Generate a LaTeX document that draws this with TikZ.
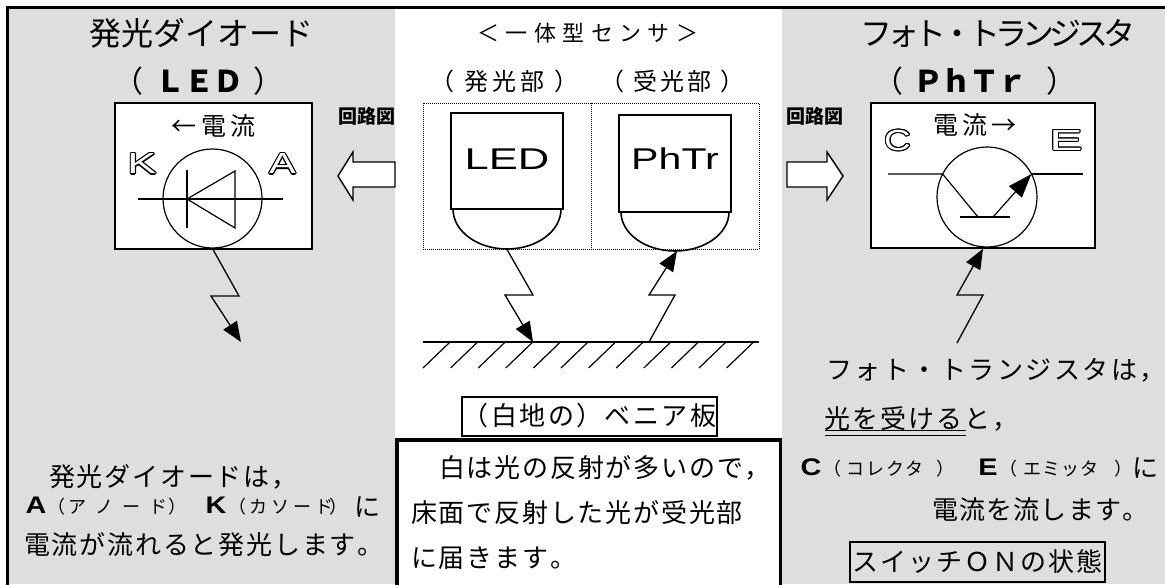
\documentclass[tikz,border=0pt]{standalone}
\usepackage{fontspec}
\usepackage{graphicx}
\setmainfont{Noto Sans CJK JP}
\newfontfamily\latinsans{Liberation Sans}
\usetikzlibrary{arrows.meta,calc}
\definecolor{panelgray}{RGB}{222,222,222}

\newcommand\fsz[1]{\fontsize{#1}{#1}\selectfont}
% set a string with a fixed extra gap between its characters
\makeatletter
\def\sp@end{\sp@end@marker}
\newcommand\sptext[2]{\def\sp@gap{\hspace{#1}}\sp@first#2\sp@end}
\def\sp@first#1{#1\sp@next}
\def\sp@next#1{\ifx#1\sp@end\else\sp@gap#1\expandafter\sp@next\fi}
\makeatother
% parenthesised label: left gap, inner gap, right gap, text
\newcommand\parlabel[4]{（\hspace{#1}\sptext{#2}{#4}\hspace{#3}）}
% bold wide latin capital
\newcommand\capletter[1]{{\latinsans\bfseries\scalebox{1.2}[1]{#1}}}
% outlined (hollow) capital letter: name, position, horizontal stretch, letter
\newcommand\hollowat[4]{%
  \foreach \ang in {0,30,...,330}{%
    \node[hollowtxt, text=black] (#1-\ang) at ($(#2)+(\ang:1.1)$) {\scalebox{#3}[1]{#4}};}%
  \node[hollowtxt, text=white] (#1) at (#2) {\scalebox{#3}[1]{#4}};}

\tikzset{
  tx/.style={inner sep=0pt, font=\fsz{#1},
    text height=\dimexpr#1pt*80/100\relax, text depth=\dimexpr#1pt*8/100\relax},
  hollowtxt/.style={inner sep=0pt, font=\latinsans\fsz{29}, text height=20.8pt, text depth=0pt},
  thinline/.style={line width=1.2pt},
  bolt/.style={line width=1.3pt, -{Triangle[length=20pt,width=16pt]}},
  hollowarrow/.style={line width=1.4pt, fill=white, line join=miter},
  frame/.style={line width=1.6pt, fill=white},
}

\begin{document}
\begin{tikzpicture}[x=1pt,y=-1pt]
\useasboundingbox (0,0) rectangle (1165,584);
\fill[white] (0,0) rectangle (1165,584);
\fill[panelgray] (7.5,7.3) rectangle (1165,584);
\fill[white] (395,7.3) rectangle (782,584);
\draw[line width=3pt] (7.5,600) -- (7.5,7.3) -- (1175,7.3);

% ---------- left panel: light emitting diode ----------
\node[tx=32] (ledtitle) at (201,34) {\sptext{0pt}{発光ダイオード}};
\node[tx=30] (ledsub) at (198.4,82) {（\hspace{12pt}{\bfseries\sptext{-1pt}{ＬＥＤ}}\hspace{10pt}）};
\node[draw, frame, minimum width=197, minimum height=146, inner sep=0pt] (ledbox) at (213.5,176) {};
\node[tx=25] (ledcur) at (213.5,126) {\sptext{4.5pt}{←電流}};
\hollowat{ledK}{142,163.5}{1.5}{K}
\hollowat{ledA}{282.5,163.5}{1.38}{A}
\node[draw, circle, thinline, minimum size=99, inner sep=0pt] (diodering) at (212.5,198.5) {};
\draw[thinline] (138,199) -- (283,199);
\draw[thinline] (187,170) -- (187,228);
\draw[thinline] (187,199) -- (235,171) -- (235,228) -- cycle;
\coordinate (ledbolt) at (241,342);
\draw[bolt] (diodering.south) -- (239,296) -- (211,296) -- (ledbolt);

\node[tx=19] (circlbl1) at (367,117) {\bfseries 回路図};
\draw[hollowarrow] (395,162) -- (353,162) -- (353,152) -- (338,176) -- (353,200) -- (353,187) -- (395,187) -- cycle;

\node[tx=26, anchor=west] (ledexp1) at (49,477) {\sptext{1.8pt}{発光ダイオードは，}};
\node[tx=24] (ledA2) at (36,505) {\capletter{A}};
\node[tx=18] (ledAnote) at (119,507) {\hspace{-4pt}（\hspace{3pt}\sptext{9pt}{アノード}\hspace{1.5pt}）};
\node[tx=24] (ledK2) at (216,505) {\capletter{K}};
\node[tx=18] (ledKnote) at (291,507) {\hspace{-6pt}（\hspace{3pt}\sptext{4pt}{カソード}\hspace{-4pt}）\hspace{-8pt}};
\node[tx=26] (ledni) at (367,507) {に};
\node[tx=26, anchor=west] (ledexp3) at (24,545) {\sptext{1.8pt}{電流が流れると発光します。}};

% ---------- middle: one-piece sensor ----------
\node[tx=22] (sensortitle) at (588,34) {\sptext{6.4pt}{＜一体型センサ＞}};
\node[tx=24] (emitpart) at (504.2,82) {\parlabel{10.3pt}{4pt}{9.8pt}{発光部}};
\node[tx=24] (recvpart) at (672.3,82) {\parlabel{8.8pt}{3pt}{9.3pt}{受光部}};
\draw[densely dotted, line width=1pt] (423,103) rectangle (759,249);
\draw[densely dotted, line width=1pt] (591,103) -- (591,249);

\draw[frame] (451,113) rectangle (563,209);
\draw[line width=1.6pt] (453,209) .. controls (453,231.1) and (477.2,249) .. (507,249)
  .. controls (536.8,249) and (561,231.1) .. (561,209);
\node[tx=30] (ledchip) at (507,159) {\latinsans\scalebox{1.45}[1]{LED}};
\coordinate (ledlens) at (507,249.5);

\draw[frame] (619,115) rectangle (731,212);
\draw[line width=1.6pt] (621,212) .. controls (621,233.5) and (645.2,251) .. (675,251)
  .. controls (704.8,251) and (729,233.5) .. (729,212);
\node[tx=30] (phtrchip) at (675,159) {\latinsans\scalebox{1.37}[1]{PhTr}};
\coordinate (phtrlens) at (677,251);

\coordinate (hitpoint) at (533,342);
\coordinate (bouncepoint) at (649,342);
\draw[bolt] (ledlens) -- (533,295) -- (505,295) -- (hitpoint);
\draw[bolt] (bouncepoint) -- (675,295) -- (649,295) -- (phtrlens);

\draw[line width=1.3pt] (423,342) -- (759,342);
\foreach \i in {0,...,11}
  \draw[line width=1.2pt] (423+27.6*\i,368) -- (450+27.6*\i,342);

\node[tx=26, draw, line width=2.2pt, fill=white, minimum width=255, minimum height=39] (veneer)
  at (589.5,416.5) {\sptext{2.4pt}{（白地の）ベニア板}\hspace{7.4pt}};
\draw[line width=3.5pt, fill=white] (397,440) rectangle (780.5,610);
\node[tx=26, anchor=west] (note1) at (439,468.5) {\sptext{1.8pt}{白は光の反射が多いので，}};
\node[tx=26, anchor=west] (note2) at (411,513.5) {\sptext{1.8pt}{床面で反射した光が受光部}};
\node[tx=26, anchor=west] (note3) at (411,558.5) {\sptext{1.8pt}{に届きます。}};

% ---------- right panel: phototransistor ----------
\node[tx=32] (pttitle) at (998,34) {\sptext{-5pt}{フォト・トランジスタ}};
\node[tx=30] (ptsub) at (975,82) {（\hspace{10pt}{\bfseries\sptext{-2pt}{ＰｈＴｒ}}\hspace{19pt}）};
\node[tx=19] (circlbl2) at (815,117) {\bfseries 回路図};
\draw[hollowarrow] (787,162) -- (827,162) -- (827,152) -- (843,176) -- (827,200) -- (827,187) -- (787,187) -- cycle;

\node[draw, frame, minimum width=224, minimum height=145, inner sep=0pt] (ptbox) at (983,175.5) {};
\node[tx=25] (ptcur) at (974.5,125) {\sptext{4pt}{電流→}};
\hollowat{ptC}{897.5,140}{1.27}{C}
\hollowat{ptE}{1066,140}{1.72}{E}
\node[draw, circle, thinline, minimum size=100, inner sep=0pt] (ptring) at (987,197) {};
\draw[thinline] (888,174) -- (942.6,174) -- (978,217);
\draw[thinline] (960,217) -- (1010,217);
\draw[thinline] (1031.4,174) -- (1083,174);
\draw[thinline, -{Triangle[length=24pt,width=17pt]}] (993,217) -- (1031.4,174);
\coordinate (ptlight) at (957,343);
\draw[bolt] (ptlight) -- (983,295) -- (957,295) -- (ptbox.south);

\node[tx=26, anchor=west] (ptexp1) at (826,370) {\sptext{2.5pt}{フォト・トランジスタは，}};
\node[tx=26, anchor=west] (ptexp2) at (824,419) {\sptext{2pt}{光を受けると，}};
\draw[line width=1.2pt] (825,430.7) -- (966,430.7);
\draw[line width=1.2pt] (825,435.3) -- (966,435.3);
\node[tx=24] (ptC2) at (811,467) {\capletter{C}};
\node[tx=18] (ptCnote) at (891.5,469) {\hspace{-5pt}（\hspace{5.5pt}\sptext{1.5pt}{コレクタ}\hspace{13pt}）};
\node[tx=24] (ptE2) at (988,467) {\capletter{E}};
\node[tx=18] (ptEnote) at (1069,469) {\hspace{-6pt}（\hspace{6pt}\sptext{1pt}{エミッタ}\hspace{15.5pt}）\hspace{-9pt}};
\node[tx=26] (ptni) at (1145,468) {に};
\node[tx=26, anchor=west] (ptexp4) at (932,510) {\sptext{1.2pt}{電流を流します。}};
\node[tx=26, draw, line width=2.2pt, minimum width=255, minimum height=40] (switchbox)
  at (977.5,562) {\sptext{2.1pt}{スイッチＯＮの状態}};
\end{tikzpicture}
\end{document}
